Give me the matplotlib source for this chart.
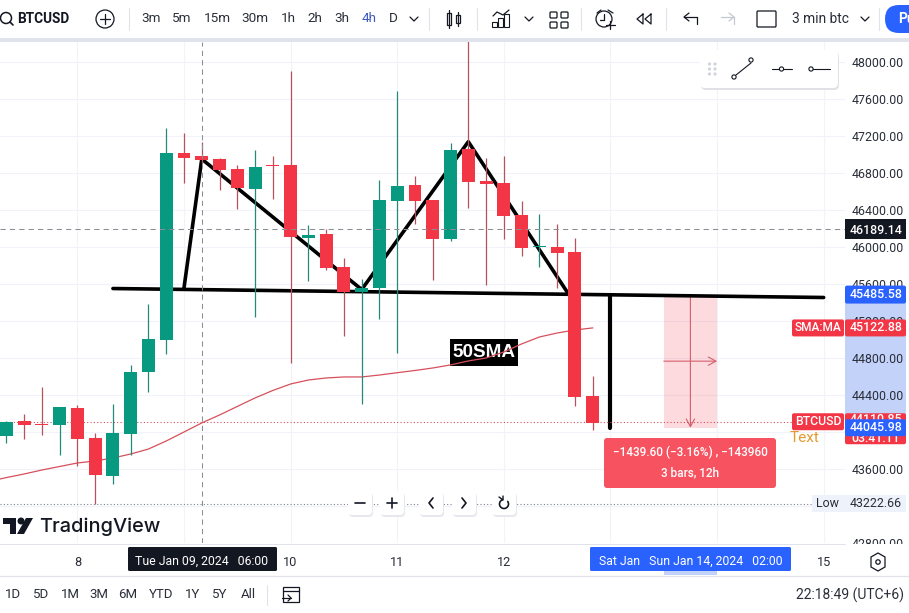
import matplotlib
matplotlib.use('Agg')
import matplotlib.pyplot as plt
import numpy as np
from matplotlib.patches import Rectangle, FancyBboxPatch, Circle, Polygon

plt.rcParams['font.family'] = ['Roboto', 'DejaVu Sans']

# 4h 캔들 데이터
opens = [43960, 44119, 44087, 44076, 44260, 43935, 43528, 43982, 44652, 44998, 47016, 46984,
         46951, 46843, 46630, 46887, 46887, 46101, 46141, 45784, 45514, 45560, 46497, 46670,
         46508, 46090, 47060, 46717, 46692, 46346, 46003, 46000, 45946, 44389]
highs = [44114, 44195, 44490, 44271, 44292, 43989, 44306, 44725, 45384, 47287, 47236, 47135,
         46962, 46887, 47049, 46987, 47903, 46238, 46195, 45881, 45654, 46724, 47690, 46768,
         46508, 47128, 48300, 46965, 46987, 46501, 46357, 46249, 46097, 44606]
lows = [43881, 43925, 43968, 43752, 43636, 43223, 43438, 43752, 44436, 44843, 46692, 46908,
        46616, 46411, 45247, 46519, 44749, 45633, 45752, 45041, 44303, 45222, 44858, 46249,
        45643, 46068, 46425, 45589, 46087, 45903, 45784, 45557, 44281, 44025]
closes = [44108, 44076, 44076, 44271, 43928, 43539, 43989, 44649, 45006, 47016, 46965, 46941,
          46833, 46638, 46865, 46879, 46111, 46130, 45776, 45514, 45557, 46508, 46660, 46497,
          46090, 47049, 46706, 46681, 46338, 45993, 46011, 45935, 44382, 44101]

# SMA 값 (첫 값은 화면 왼쪽 바깥의 봉)
sma = [43465, 43507, 43546, 43589, 43627, 43665, 43687, 43719, 43762, 43816, 43903, 44000,
       44098, 44184, 44276, 44368, 44449, 44519, 44562, 44584, 44595, 44595, 44616, 44641,
       44665, 44692, 44725, 44768, 44800, 44865, 44952, 45027, 45070, 45103, 45125]

# 직접 그린 도형
neck_x = [6.0, 46.0]
neck_y = [45551, 45454]
pattern_x = [10.0, 11.0, 20.0, 26.0, 31.6]
pattern_y = [45557, 46951, 45540, 47138, 45503]
drop_x = [34, 34]
drop_y = [45460, 44043]
measure_x = [37, 40]
measure_y = [45485.58, 44045.98]
note_x = [24.98, 28.8]
note_y = [44713, 45005]

# 가려진 눈금(43200, 44000, 9, 13, 14)은 라벨을 비워 둠
price_ticks = [42800, 43200, 43600, 44000, 44400, 44800, 45200, 45600, 46000, 46400, 46800, 47200, 47600, 48000]
price_labels = ['42800.00', '', '43600.00', '', '44400.00', '44800.00', '45200.00', '45600.00',
                '46000.00', '46400.00', '46800.00', '47200.00', '47600.00', '48000.00']
day_ticks = [4, 10, 16, 22, 28, 34, 40, 46]
day_labels = ['8', '', '10', '11', '12', '', '', '15']

cross_price = 46189.14
last_price = 44110.85
low_price = 43222.66

periods = ['3m', '5m', '15m', '30m', '1h', '2h', '3h', '4h', 'D']
period_px = [151, 182, 217, 255, 288, 315, 342, 369, 393]
ranges = ['1D', '5D', '1M', '3M', '6M', 'YTD', '1Y', '5Y', 'All']
range_px = [13, 41, 70, 99, 128, 161, 193, 220, 248]

GREEN = '#089981'
RED = '#f23645'
INK = '#131722'
W, H = 909, 613
YMIN, YMAX = 42800, 48216
XMIN, XMAX = -0.355, 47.2

fig = plt.figure(figsize=(W / 100, H / 100), dpi=100, facecolor='white')


def px_axes(z):
    a = fig.add_axes([0, 0, 1, 1], zorder=z)
    a.set_xlim(0, W)
    a.set_ylim(H, 0)
    a.axis('off')
    return a


def py(price):
    return 42 + (YMAX - price) / (YMAX - YMIN) * 501


def bx(i):
    return (i - XMIN) / (XMAX - XMIN) * 845


# 가격축 뒤 배경
bg = px_axes(0)
bg.add_patch(Rectangle((845, py(measure_y[0])), 61, py(measure_y[1]) - py(measure_y[0]), color='#c3d2f9', lw=0))

ax = fig.add_axes([0, (H - 543) / H, 845 / W, 501 / H], zorder=1, facecolor='none')
ax.set_xlim(XMIN, XMAX)
ax.set_ylim(YMIN, YMAX)
for s in ax.spines.values():
    s.set_visible(False)
ax.yaxis.tick_right()
ax.set_yticks(price_ticks)
ax.set_yticklabels(price_labels, fontsize=8.9, color='#2a2e39')
ax.set_xticks(day_ticks)
ax.set_xticklabels(day_labels, fontsize=9.2, color='#2a2e39')
ax.tick_params(axis='both', length=0)
ax.tick_params(axis='y', pad=5)
ax.tick_params(axis='x', pad=9)
ax.grid(True, color='#f0f3fa', lw=0.8)
ax.set_axisbelow(True)

# 측정 영역
ax.add_patch(Rectangle((measure_x[0], measure_y[1]), measure_x[1] - measure_x[0], measure_y[0] - measure_y[1],
                       color='#f23645', alpha=0.18, lw=0, zorder=1.5))
mid_x = sum(measure_x) / 2
mid_y = sum(measure_y) / 2
arrow_style = dict(arrowstyle='->,head_length=0.55,head_width=0.3', color='#d4606d', lw=0.8, shrinkA=0, shrinkB=0)
ax.annotate('', xy=(mid_x, measure_y[1]), xytext=(mid_x, measure_y[0]), arrowprops=arrow_style, zorder=1.6)
ax.annotate('', xy=(measure_x[1], mid_y), xytext=(measure_x[0], mid_y), arrowprops=arrow_style, zorder=1.6)

# 패턴 선
ax.plot(neck_x, neck_y, color='black', lw=2.6, solid_capstyle='round', zorder=2)
ax.plot(pattern_x, pattern_y, color='black', lw=2.6, solid_capstyle='round', zorder=2)
ax.plot(drop_x, drop_y, color='black', lw=3, solid_capstyle='round', zorder=2)

ax.add_patch(Rectangle((note_x[0], note_y[0]), note_x[1] - note_x[0], note_y[1] - note_y[0], color='black', lw=0, zorder=2.1))
ax.text(sum(note_x) / 2, sum(note_y) / 2, '50SMA', color='white', fontsize=13.6, fontweight='bold',
        family='Liberation Sans', ha='center', va='center', zorder=2.2)

ax.plot(np.arange(len(sma)) - 1, sma, color='#d6505c', lw=0.9, zorder=2.5)

# 기준선
ax.plot([XMIN, 44.3], [last_price, last_price], color='#d6505c', lw=0.8, ls=(0, (1, 2)), zorder=2.4)
ax.plot([XMIN, 45.4], [low_price, low_price], color='#7b808c', lw=0.8, ls=(0, (1, 2)), zorder=2.4)

# 캔들
idx = np.arange(len(opens))
o = np.array(opens)
c = np.array(closes)
colors = [GREEN if cl >= op else RED for op, cl in zip(opens, closes)]
wick_colors = ['#24897a' if cl >= op else '#b9505e' for op, cl in zip(opens, closes)]
ax.vlines(idx, lows, highs, colors=wick_colors, lw=0.9, zorder=3)
ax.bar(idx, np.abs(c - o), bottom=np.minimum(o, c), width=0.73, color=colors, lw=0, zorder=3.1)

# 크로스헤어
ax.axhline(cross_price, color='#8a8d96', lw=0.75, ls=(0, (5, 4)), zorder=4)
ax.axvline(11, color='#8a8d96', lw=0.75, ls=(0, (5, 4)), zorder=4)

# 화면 UI
ui = px_axes(5)


def line(xs, ys, color='#131722', lw=0.9):
    ui.plot(xs, ys, color=color, lw=lw, solid_capstyle='round', solid_joinstyle='round')


def rbox(x, y, w, h, fc, r=2, ec='none', lw=0, z=2):
    ui.add_patch(FancyBboxPatch((x + r, y + r), w - 2 * r, h - 2 * r, boxstyle='round,pad=%g,rounding_size=%g' % (r, r),
                                fc=fc, ec=ec, lw=lw, zorder=z, mutation_aspect=1))


def label(x, y, s, color='#131722', size=8.9, ha='center', weight='normal', z=4):
    ui.text(x, y, s, color=color, fontsize=size, ha=ha, va='center', fontweight=weight, zorder=z)


def chevron(x, y, color='#131722'):
    line([x - 4, x, x + 4], [y - 2, y + 2, y - 2], color)


# 상단 툴바
ui.add_patch(Rectangle((0, 0), W, 38, color='white', lw=0))
ui.add_patch(Rectangle((0, 38), W, 4, color='#e0e3eb', lw=0))
ui.add_patch(Circle((6, 18), 5.5, fc='none', ec=INK, lw=1.1))
line([10, 13], [22, 25], INK, 1.2)
label(17, 19, 'BTCUSD', size=9.8, ha='left', weight='bold')
ui.add_patch(Circle((105, 19), 9, fc='none', ec=INK, lw=0.9))
line([100, 110], [19, 19])
line([105, 105], [14, 24])
for sx in [129, 429, 477, 581, 666, 879]:
    line([sx, sx], [8, 30], '#e0e3eb', 0.8)
for name, x in zip(periods, period_px):
    label(x, 19, name, '#3d59c4' if name == '4h' else '#2a2e39', 9.7)
chevron(414, 19)
# 캔들 아이콘
ui.add_patch(Rectangle((447, 13), 4, 12, fc='none', ec=INK, lw=0.9))
line([449, 449], [10, 28])
ui.add_patch(Rectangle((456, 15), 4, 8, fc='none', ec=INK, lw=0.9))
line([458, 458], [12, 26])
# 지표 아이콘
line([493, 497, 503, 509], [16, 12, 15, 10])
for bx0, bh in zip([492, 498, 504], [5, 9, 13]):
    ui.add_patch(Rectangle((bx0, 27 - bh), 5, bh, fc='none', ec=INK, lw=0.8))
chevron(529, 19)
for gx in [550, 561]:
    for gy in [12, 22]:
        rbox(gx, gy, 7, 6, 'none', 1, INK, 0.9)
# 알람 아이콘
ui.add_patch(Circle((604, 19), 8, fc='none', ec=INK, lw=0.9))
line([597, 601], [13, 10])
line([608, 613], [10, 13])
line([604, 604, 600], [14, 20, 20])
line([606, 615], [25, 25])
line([610, 610], [21, 29])
# 리플레이 아이콘
line([643, 637, 643, 643], [14, 19, 24, 14])
line([651, 645, 651, 651], [14, 19, 24, 14])
# undo / redo
line([697, 697, 684], [24, 17, 17])
line([689, 684, 689], [13, 17, 21])
line([721, 734, 734], [17, 17, 24], '#c5c8d0')
line([729, 734, 729], [13, 17, 21], '#c5c8d0')
rbox(757, 11, 19, 16, 'none', 1, INK, 0.9)
label(820, 19, '3 min btc', '#2a2e39', 9.9)
chevron(865, 19)
rbox(885, 5, 40, 28, '#2962ff', 14)
label(898, 19, 'Pu', 'white', 10, ha='left', weight='bold')

# 플로팅 툴바
rbox(701, 52, 138, 38, '#dfe1e6', 5, z=1.5)
rbox(700, 50, 138, 38, 'white', 5)
for dx in [709.5, 715]:
    for dy in [64, 69, 74]:
        ui.add_patch(Circle((dx, dy), 0.9, color='#d1d4dc', zorder=3))
line([736, 751], [75, 63], INK, 0.8)
line([772, 792], [69, 69], INK, 0.8)
line([810, 830], [69, 69], INK, 0.8)
for cx, cy in [(734, 77), (751, 60), (781.5, 69), (811, 69)]:
    ui.add_patch(Circle((cx, cy), 2.1, fc='white', ec=INK, lw=0.8, zorder=3))

# 시간축 / 하단 바
line([0, 845], [543.5, 543.5], '#e0e3eb', 0.7)
line([0, W], [575.5, 575.5], '#e0e3eb', 0.9)
ui.add_patch(Rectangle((845, 544), 64, 32, color='white', lw=0, zorder=1))
ui.add_patch(Rectangle((bx(measure_x[0]), 571), bx(measure_x[1]) - bx(measure_x[0]), 4, color='#c3d2f9', lw=0, zorder=1))
rbox(128, 547, 149, 24, INK, 1.5)
label(202, 561, 'Tue Jan 09, 2024   06:00', 'white', 8.8)
rbox(590, 547, 201, 24, '#2962ff', 1.5)
label(691, 561, 'Sat Jan   Sun Jan 14, 2024   02:00', 'white', 8.8)
ui.add_patch(Polygon([(871, 557), (878, 553), (885, 557), (885, 567), (878, 571), (871, 567)], fc='none', ec=INK, lw=0.9))
ui.add_patch(Circle((878, 562), 2.2, fc='none', ec=INK, lw=0.9))

for name, x in zip(ranges, range_px):
    label(x, 595, name, '#2a2e39', 9.5)
line([267, 267], [585, 605], '#e0e3eb', 0.8)
ui.add_patch(Rectangle((283, 587), 16, 15, fc='none', ec=INK, lw=0.9))
line([283, 299], [591, 591])
line([282, 291], [598, 598])
line([288, 291, 288], [595, 598, 601])
label(904, 595, '22:18:49 (UTC+6)', '#2a2e39', 10, ha='right')

# 가격 라벨
rbox(845, py(measure_y[0]) - 9, 61, 18, '#2962ff', 2)
label(876, py(measure_y[0]), '45485.58', 'white', weight='medium')
ui.add_patch(Rectangle((845, py(46189.14) - 10), 61, 20, color=INK, lw=0, zorder=2))
label(876, py(46189.14) + 1, '46189.14', 'white', weight='medium')

sma_y = py(sma[-1])
rbox(792, sma_y - 8.5, 52, 17, RED, 2)
rbox(845, sma_y - 8.5, 61, 17, RED, 2)
label(818, sma_y, 'SMA:MA', 'white', 8.6, weight='medium')
label(876, sma_y, '45122.88', 'white', weight='medium')

last_y = py(last_price)
rbox(792, last_y - 8.5, 52, 17, RED, 2)
rbox(845, last_y - 8.5, 61, 31, RED, 2)
label(818, last_y, 'BTCUSD', 'white', 8.8, weight='medium')
label(876, last_y - 2, '44110.85', 'white', weight='medium')
label(876, last_y + 17, '03:41:11', 'white', weight='medium')
rbox(845, py(measure_y[1]) - 8.5, 61, 17, '#2962ff', 2, z=5)
label(876, py(measure_y[1]), '44045.98', 'white', weight='medium', z=6)
label(805, last_y + 16.5, 'Text', '#e39a2d', 11, z=6)

# Low 라벨
ui.add_patch(Rectangle((812, py(low_price) - 8.5), 94, 17, color='#edf2fb', lw=0, zorder=2))
label(827, py(low_price), 'Low', '#2a2e39')
label(876, py(low_price), '43222.66', '#2a2e39')

# 측정 툴팁
rbox(604, 438, 172, 50, '#f7525f', 3)
label(690, 452.5, '\u22121439.60 (\u22123.16%) , \u2212143960', 'white', 8.5, weight='medium')
label(690, 472.5, '3 bars, 12h', 'white', 8.5, weight='medium')

# 줌 버튼
for bxx in [360, 392, 431, 464, 504]:
    rbox(bxx - 11, 493, 24, 24, '#e6e8ee', 4, z=1.5)
    rbox(bxx - 12, 491, 24, 24, 'white', 4)
line([355, 365], [503, 503], INK, 1.2)
line([387, 397], [503, 503], INK, 1.2)
line([392, 392], [498, 508], INK, 1.2)
line([433, 429, 433], [498, 503, 508], INK, 1.2)
line([462, 466, 462], [498, 503, 508], INK, 1.2)
t = np.linspace(-0.6, 4.4, 30)
line(504 + 4.5 * np.cos(t), 504 + 4.5 * np.sin(t), INK, 1.2)
line([499, 503, 503], [497, 500, 496], INK, 1.0)

# 로고
ui.add_patch(Polygon([(3, 518), (16, 518), (16, 534), (10, 534), (10, 524), (3, 524)], color=INK, lw=0, zorder=3))
ui.add_patch(Circle((21, 521), 2.8, color=INK, zorder=3))
ui.add_patch(Polygon([(26, 518), (33, 518), (24, 534), (17, 534)], color=INK, lw=0, zorder=3))
ui.text(39, 526.5, 'TradingView', color=INK, fontsize=14.4, family='Inter', fontweight='medium', ha='left', va='center', zorder=3)

fig.savefig('out.png', dpi=100)
